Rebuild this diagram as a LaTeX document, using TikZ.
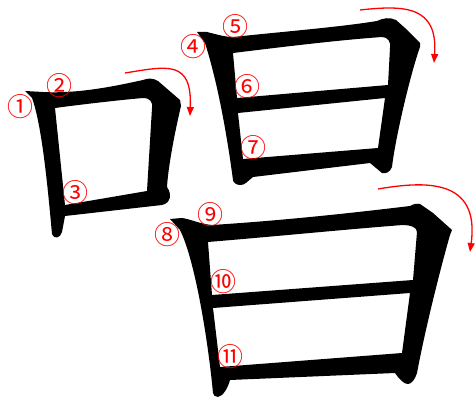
\documentclass[tikz,border=0pt]{standalone}
\usepackage{fontspec}
\newfontfamily\cjkjp{Noto Sans CJK JP}
\usetikzlibrary{arrows.meta}
\tikzset{
  ink/.style={fill=black, even odd rule, draw=none},
  num/.style={text=red, inner sep=0pt, font=\cjkjp\fontsize{26}{26}\selectfont},
  order/.style={draw=red, line width=1.3pt, -{Triangle[length=9pt,width=7pt]}}
}
\begin{document}
\begin{tikzpicture}[x=1pt,y=-1pt]
\useasboundingbox (0,0) rectangle (476,403);
% ---- small 口 ----
\path[ink] (25,91) -- (43,92) .. controls (80,94) and (120,85) .. (143,80)
  .. controls (148,78) and (153,78) .. (158,81) -- (180,100) -- (181,106)
  .. controls (173,140) and (168,170) .. (167,187)
  .. controls (172,194) and (171,203) .. (162,205)
  -- (65,216) -- (62,232) .. controls (60,238) and (55,240) .. (52,234)
  .. controls (48,190) and (42,125) .. (32,98) -- cycle
  (55,108) .. controls (85,104) and (120,100) .. (143,98)
  .. controls (150,98) and (153,102) .. (152,108) -- (147,191) -- (65,205) -- cycle;
% ---- upper 日 ----
\path[ink] (197,32) -- (207,32) .. controls (215,34) and (225,37) .. (233,37)
  .. controls (290,31) and (340,27) .. (377,21)
  .. controls (383,18) and (390,17) .. (396,20) -- (405,28) -- (420,43) -- (420,47)
  .. controls (410,75) and (395,140) .. (392,167)
  .. controls (390,172) and (386,174) .. (382,173) -- (370,163)
  -- (253,177) .. controls (249,180) and (244,186) .. (240,185)
  .. controls (236,185) and (233,182) .. (233,180)
  .. controls (229,150) and (220,90) .. (205,43) -- cycle
  (233,53) .. controls (290,46) and (340,40) .. (382,37)
  .. controls (388,37) and (391,42) .. (390,48) -- (388,85) -- (237,98) -- cycle
  (238,113) -- (385,98) -- (378,148) -- (243,159) -- cycle;
% ---- lower 日 ----
\path[ink] (170,219) -- (182,218) .. controls (190,219) and (200,224) .. (212,225)
  .. controls (290,220) and (360,212) .. (410,206)
  .. controls (414,204) and (417,203) .. (420,204) -- (433,213) -- (452,230) -- (450,235)
  .. controls (440,270) and (425,330) .. (417,373)
  .. controls (415,380) and (411,384) .. (408,384)
  .. controls (404,384) and (400,380) .. (395,373)
  -- (230,380) .. controls (228,388) and (223,396) .. (218,397)
  .. controls (215,397) and (213,395) .. (213,393)
  .. controls (208,340) and (195,260) .. (180,230) -- cycle
  (208,242) .. controls (280,236) and (350,229) .. (403,225)
  .. controls (410,225) and (417,227) .. (417,232) -- (413,280) -- (212,295) -- cycle
  (213,308) -- (410,293) -- (402,353) -- (220,367) -- cycle;
% ---- stroke-order arrows ----
\coordinate (a1s) at (125,73); \coordinate (a1e) at (190,116);
\coordinate (a2s) at (360,10); \coordinate (a2e) at (434,63);
\coordinate (a3s) at (378,189); \coordinate (a3e) at (470,252);
\draw[order] (a1s) .. controls (168,66) and (192,60) .. (a1e);
\draw[order] (a2s) .. controls (405,5) and (438,6) .. (a2e);
\draw[order] (a3s) .. controls (425,181) and (480,178) .. (a3e);
% ---- numbers ----
\node[num] (n1) at (20,107) {①};
\node[num] (n2) at (59,86) {②};
\node[num] (n3) at (75,193) {③};
\node[num] (n4) at (193,47) {④};
\node[num] (n5) at (235,27) {⑤};
\node[num] (n6) at (247,87) {⑥};
\node[num] (n7) at (253,148) {⑦};
\node[num] (n8) at (167,235) {⑧};
\node[num] (n9) at (210,215) {⑨};
\node[num] (n10) at (223,282) {⑩};
\node[num] (n11) at (230,357) {⑪};
\end{tikzpicture}
\end{document}
